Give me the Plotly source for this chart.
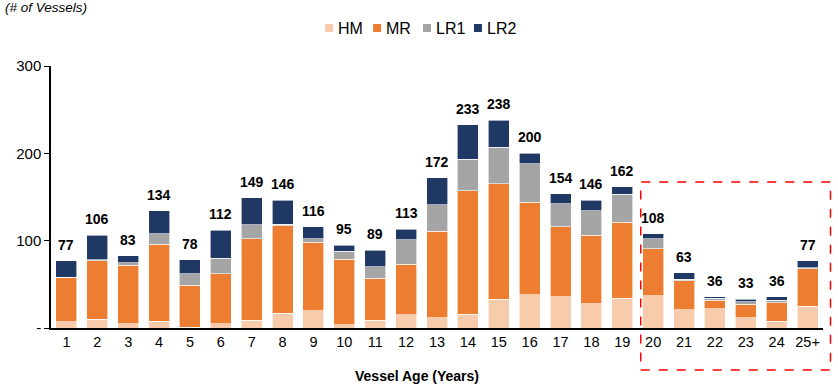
import plotly.graph_objects as go

ages = ["1","2","3","4","5","6","7","8","9","10","11","12","13","14","15","16","17","18","19","20","21","22","23","24","25+"]
hm  = [7, 10, 5, 8, 1, 5, 9, 17, 20, 4, 9, 15, 12, 16, 33, 38, 36, 28, 34, 37, 21, 22, 12, 8, 25]
mr  = [51, 67, 67, 88, 48, 57, 93, 100, 78, 75, 48, 58, 99, 141, 132, 106, 80, 78, 87, 54, 33, 10, 15, 21, 43]
lr1 = [0, 1, 3, 12, 13, 18, 16, 2, 4, 9, 13, 28, 30, 36, 42, 44, 26, 28, 32, 11, 2, 2, 3, 3, 1]
lr2 = [19, 28, 8, 26, 16, 32, 31, 27, 14, 7, 19, 12, 31, 40, 31, 12, 12, 12, 9, 6, 7, 2, 3, 4, 8]
totals = [a + b + c + d for a, b, c, d in zip(hm, mr, lr1, lr2)]

series = [("HM", hm, "#F8CBAD"), ("MR", mr, "#ED7D31"), ("LR1", lr1, "#A5A5A5"), ("LR2", lr2, "#203864")]

# layout geometry (pixels)
W, H = 838, 386
L, R, T, B = 50.5, 14.5, 66, 58
PW, PH = W - L - R, H - T - B
def px(x):
    return (x - L) / PW
def py(y):
    return (H - B - y) / PH

legend_square_left = [325, 373, 423, 474]
legend_y = 28

fig = go.Figure()
for name, vals, col in series:
    fig.add_trace(go.Bar(x=ages, y=vals, name=name, showlegend=False,
                         marker=dict(color=col, line=dict(color="white", width=0.6)), width=0.68))

annotations = [dict(x=i, y=t, text="<b>%d</b>" % t, showarrow=False, xanchor="center", yanchor="middle",
                    yshift=16, font=dict(size=14, color="black")) for i, t in enumerate(totals)]
annotations.append(dict(text="<i>(# of Vessels)</i>", xref="paper", yref="paper", x=px(2), y=py(8),
                        xanchor="left", yanchor="middle", showarrow=False, font=dict(size=13.5)))
annotations.append(dict(text="<b>Vessel Age (Years)</b>", xref="paper", yref="paper", x=px(417), y=py(376),
                        xanchor="center", yanchor="middle", showarrow=False, font=dict(size=14)))

shapes = [dict(type="rect", xref="paper", yref="paper", x0=px(641), x1=px(831), y0=py(370), y1=py(182),
               line=dict(color="#FF0000", width=1.5, dash="dash"), fillcolor="rgba(0,0,0,0)")]

for (name, vals, col), sx in zip(series, legend_square_left):
    shapes.append(dict(type="rect", xref="paper", yref="paper", x0=px(sx), x1=px(sx + 8),
                       y0=py(legend_y + 4), y1=py(legend_y - 4), fillcolor=col, line=dict(width=0)))
    annotations.append(dict(text=name, xref="paper", yref="paper", x=px(sx + 11), y=py(legend_y),
                            xanchor="left", yanchor="middle", showarrow=False, font=dict(size=16)))

fig.update_layout(
    barmode="stack",
    showlegend=False,
    width=W, height=H,
    margin=dict(l=L, r=R, t=T, b=B, autoexpand=False),
    plot_bgcolor="white", paper_bgcolor="white",
    font=dict(family="Liberation Sans, Arial", size=14, color="black"),
    xaxis=dict(type="category", range=[-0.5, 24.5], showline=True, linecolor="black", linewidth=1.5,
               ticks="", tickfont=dict(size=14.5), showgrid=False, automargin=False),
    yaxis=dict(range=[0, 300], tickvals=[0, 100, 200, 300], ticktext=["-", "100", "200", "300"],
               showline=True, linecolor="black", linewidth=1.5, ticks="outside", ticklen=5, tickcolor="black",
               showgrid=False, zeroline=False, tickfont=dict(size=15), automargin=False),
    shapes=shapes,
    annotations=annotations,
)

fig.write_html("out.html", config={"displayModeBar": False},
               post_script="document.body.style.margin='0';document.body.style.padding='0';")
